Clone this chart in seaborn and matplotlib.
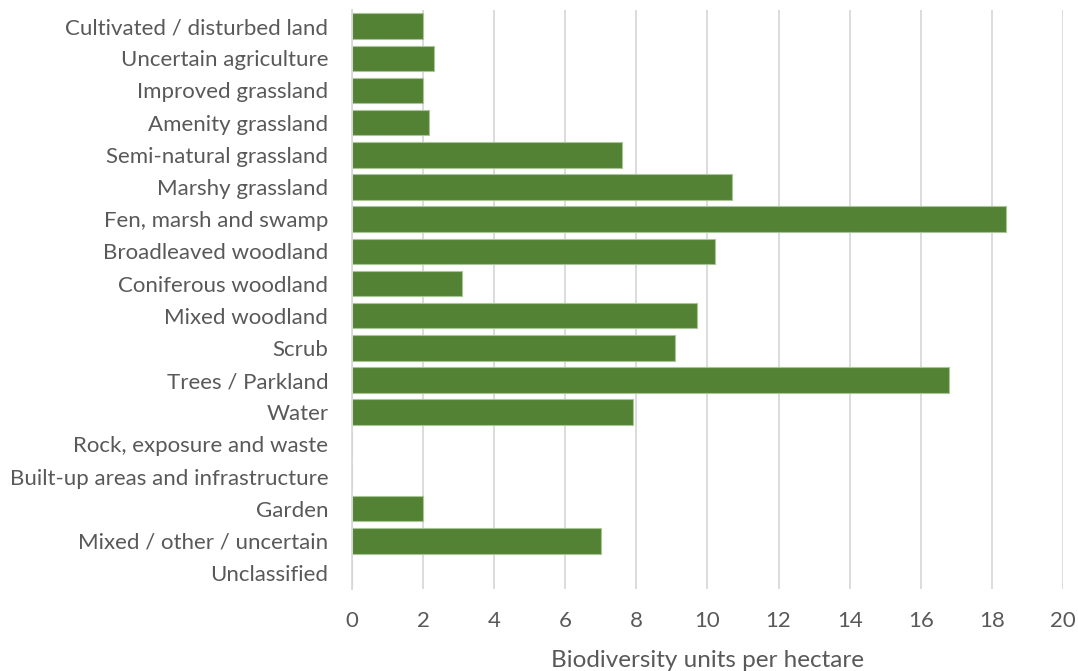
import numpy as np
import pandas as pd
import matplotlib.pyplot as plt
import seaborn as sns

habitats = [
    "Cultivated / disturbed land",
    "Uncertain agriculture",
    "Improved grassland",
    "Amenity grassland",
    "Semi-natural grassland",
    "Marshy grassland",
    "Fen, marsh and swamp",
    "Broadleaved woodland",
    "Coniferous woodland",
    "Mixed woodland",
    "Scrub",
    "Trees / Parkland",
    "Water",
    "Rock, exposure and waste",
    "Built-up areas and infrastructure",
    "Garden",
    "Mixed / other / uncertain",
    "Unclassified",
]
units_per_ha = [2.0, 2.3, 2.0, 2.17, 7.6, 10.7, 18.4, 10.2, 3.1, 9.7,
                9.1, 16.8, 7.9, 0, 0, 2.0, 7.0, 0]
x_ticks = [0, 2, 4, 6, 8, 10, 12, 14, 16, 18, 20]

df = pd.DataFrame({"habitat": habitats, "value": units_per_ha})

sns.set_style("white")
plt.rcParams['font.family'] = ['Lato', 'DejaVu Sans']
text_col = "#595959"

fig = plt.figure(figsize=(10.78, 6.71), dpi=100)
ax = fig.add_axes([0.3265, 0.122, 0.6595, 0.863])

sns.barplot(data=df, x="value", y="habitat", order=habitats, orient="h",
            color="#548235", saturation=1, width=0.79,
            edgecolor="#a8c596", linewidth=0.8, ax=ax)

ax.set_xlim(0, 20)
ax.set_xticks(x_ticks)
ax.set_axisbelow(True)
ax.grid(axis="x", color="#d9d9d9", linewidth=1.3)
for s in ["top", "right", "bottom"]:
    ax.spines[s].set_visible(False)
ax.spines["left"].set_color("#d9d9d9")
ax.spines["left"].set_linewidth(1.3)

ax.tick_params(axis="y", length=0, pad=17, labelsize=16, labelcolor=text_col)
ax.tick_params(axis="x", length=0, pad=16, labelsize=16, labelcolor=text_col)
ax.set_ylabel("")
ax.set_xlabel("Biodiversity units per hectare", fontsize=17.5, color=text_col, labelpad=13.5)

fig.savefig("out.png", dpi=100)
